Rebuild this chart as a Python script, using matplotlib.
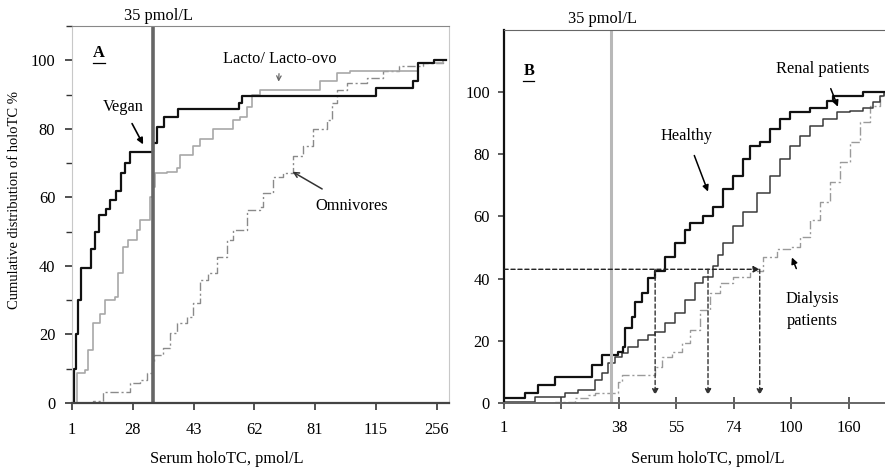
import matplotlib
matplotlib.use("Agg")
import matplotlib.pyplot as plt
from matplotlib.lines import Line2D

plt.rcParams['font.family'] = ['Liberation Serif', 'DejaVu Serif']
FS = 11.8

# Panel A: x is the ordinal tick position (0..6), y is cumulative %
a_ticklabels = ['1', '28', '43', '62', '81', '115', '256']
vegan_x = [0.0, 0.03, 0.06, 0.10, 0.14, 0.32, 0.38, 0.44, 0.56, 0.63, 0.72, 0.80, 0.88, 0.96,
           1.33, 1.40, 1.52, 1.75, 2.75, 2.80, 5.00, 5.62, 5.69, 5.95, 6.15]
vegan_y = [0, 10, 20, 30, 39.5, 45, 50, 55, 56.5, 59.4, 62, 67, 70, 73.4,
           76, 80.7, 83.6, 85.7, 87.5, 89.5, 92, 94, 99.4, 100, 100]
lacto_x = [0.02, 0.08, 0.21, 0.26, 0.35, 0.46, 0.54, 0.71, 0.76, 0.84, 0.92, 1.07, 1.12, 1.28,
           1.33, 1.37, 1.56, 1.73, 1.78, 1.99, 2.11, 2.32, 2.65, 2.76, 2.88, 2.96, 3.09,
           4.08, 4.36, 4.57, 5.69, 6.10]
lacto_y = [0, 8.8, 9.5, 15.5, 23.4, 26, 30, 31, 38, 45.6, 47.7, 50.6, 53.5, 60.2,
           63, 67, 67.5, 68.5, 72.5, 75, 77, 80, 82.7, 83.6, 86.5, 90, 91.5,
           94, 96.4, 96.8, 99.4, 100]
omni_x = [0.02, 0.35, 0.51, 0.95, 1.12, 1.23, 1.32, 1.35, 1.50, 1.61, 1.73, 1.89, 1.99, 2.11,
          2.24, 2.38, 2.55, 2.65, 2.88, 3.09, 3.14, 3.31, 3.47, 3.63, 3.80, 3.96, 4.19,
          4.28, 4.36, 4.52, 4.85, 5.12, 5.39, 5.77, 6.10]
omni_y = [0, 0.5, 3.2, 5.8, 6.7, 8.8, 11.7, 14, 16, 20.5, 23.4, 25.1, 29.2, 36,
          37.8, 42.7, 47.7, 50.6, 56.4, 57.3, 61.4, 66, 67.2, 72, 75, 80, 82.7,
          87.7, 91.5, 93.5, 95, 96.8, 98.3, 99.4, 100]
a_cutoff = 1.33

# Panel B
b_ticklabels = ['1', '', '38', '55', '74', '100', '160']
healthy_x = [0.02, 0.37, 0.59, 0.89, 1.53, 1.70, 1.98, 2.07, 2.10, 2.23, 2.28, 2.40, 2.50, 2.63,
             2.80, 2.97, 3.15, 3.23, 3.46, 3.63, 3.81, 3.98, 4.16, 4.28, 4.45, 4.63, 4.80,
             4.97, 5.32, 5.62, 5.72, 6.24, 6.63]
healthy_y = [1.6, 3.2, 5.8, 8.4, 12.3, 15.5, 16.5, 18, 24, 27.7, 32.6, 35.5, 40.3, 42.3,
             46.8, 51.6, 55.8, 58, 60, 63.2, 68.7, 73, 78.4, 82.6, 84, 88, 91.3,
             93.5, 95, 97, 98.7, 100, 100]
renal_x = [0.02, 0.54, 1.06, 1.29, 1.58, 1.70, 1.81, 1.93, 2.05, 2.16, 2.33, 2.50, 2.63, 2.80,
           2.97, 3.15, 3.32, 3.46, 3.63, 3.72, 3.81, 3.98, 4.16, 4.40, 4.63, 4.80, 4.97,
           5.15, 5.32, 5.55, 5.79, 6.02, 6.24, 6.42, 6.54, 6.61]
renal_y = [0.3, 2, 3.2, 4.2, 7.4, 9.7, 12.9, 14.8, 16.1, 18, 20.3, 21.9, 22.9, 25.8,
           29, 33.2, 38.7, 40.6, 43.9, 47.5, 51.6, 56.8, 61.3, 67.7, 72.9, 78.4, 82.6,
           85.8, 89, 91.3, 93.5, 94, 95, 96.8, 98.7, 100]
dialysis_x = [0.02, 0.89, 1.23, 1.46, 1.58, 1.98, 2.05, 2.63, 2.75, 2.92, 3.10, 3.23, 3.41, 3.58,
              3.76, 3.98, 4.28, 4.50, 4.75, 4.97, 5.15, 5.32, 5.50, 5.67, 5.84, 6.02, 6.19,
              6.37, 6.54, 6.61]
dialysis_y = [0, 0.2, 1.6, 2.6, 3.2, 6.8, 9, 11.6, 14.8, 16.5, 19.4, 23.5, 30, 35.5,
              38.7, 40.6, 42.3, 47.1, 49.4, 50.3, 53.5, 59, 64.5, 71, 77.4, 83.9, 90.3,
              95.5, 98.7, 100]
b_cutoff = 1.86
median_level = 43
median_x = [2.63, 3.55, 4.45]

fig = plt.figure(figsize=(8.85, 4.68), dpi=100)
axA = fig.add_axes([0.0814, 0.139, 0.4256, 0.805])
axB = fig.add_axes([0.5695, 0.139, 0.4305, 0.797])

# ---- panel A
axA.plot(omni_x, omni_y, drawstyle='steps-post', color='#8a8a8a', lw=1.0,
         ls=(0, (6, 2, 1.5, 2)))
axA.plot(lacto_x, lacto_y, drawstyle='steps-post', color='#a8a8a8', lw=1.2)
axA.plot(vegan_x, vegan_y, drawstyle='steps-post', color='#111111', lw=1.6)
axA.axvline(a_cutoff, color='#666666', lw=2.6)
axA.set_xlim(0, 6.2)
axA.set_ylim(0, 110)
axA.set_xticks(range(len(a_ticklabels)))
axA.set_xticklabels(a_ticklabels)
axA.set_yticks(range(0, 101, 20))
axA.set_yticks(range(10, 111, 20), minor=True)
axA.tick_params(axis='both', labelsize=FS, color='#333333', length=5, width=1.2)
axA.tick_params(axis='x', pad=9)
axA.tick_params(axis='y', pad=7)
axA.tick_params(axis='y', which='minor', length=4, width=1.0, color='#333333')
axA.set_xlabel('Serum holoTC, pmol/L', fontsize=FS)
axA.xaxis.set_label_coords(0.41, -0.128)
axA.set_ylabel('Cumulative distribution of holoTC %', fontsize=10.5, va='center')
axA.yaxis.set_label_coords(-0.152, 0.54)
axA.spines['left'].set_color('#c8c8c8')
axA.spines['right'].set_color('#c8c8c8')
axA.spines['top'].set_color('#888888')
axA.spines['bottom'].set_color('#444444')
axA.spines['bottom'].set_linewidth(1.6)
axA.text(a_cutoff + 0.1, 1.005, '35 pmol/L', transform=axA.get_xaxis_transform(),
         ha='center', va='bottom', fontsize=FS)
axA.text(0.07, 0.93, 'A', transform=axA.transAxes, fontsize=FS, fontweight='bold',
         ha='center', va='center')
axA.add_line(Line2D([0.055, 0.087], [0.903, 0.903], transform=axA.transAxes,
                    color='black', lw=0.9))

axA.annotate('Vegan', xy=(1.17, 75.5), xytext=(0.84, 86.5), fontsize=FS,
             ha='center', va='center',
             arrowprops=dict(arrowstyle='-|>', color='black', lw=1.2,
                             mutation_scale=9, shrinkA=5, shrinkB=0))
axA.annotate('Lacto/ Lacto-ovo', xy=(3.40, 93.8), xytext=(3.42, 100.5), fontsize=FS,
             ha='center', va='center',
             arrowprops=dict(arrowstyle='->', color='#666666', lw=0.9,
                             mutation_scale=8, shrinkA=3, shrinkB=0))
axA.annotate('Omnivores', xy=(3.63, 67.5), xytext=(4.6, 57.5), fontsize=FS,
             ha='center', va='center',
             arrowprops=dict(arrowstyle='->', color='#333333', lw=1.1,
                             mutation_scale=9, shrinkA=9, shrinkB=0))

# ---- panel B
axB.plot(dialysis_x, dialysis_y, drawstyle='steps-post', color='#9a9a9a', lw=1.0,
         ls=(0, (6, 2, 1.5, 2)))
axB.plot(renal_x, renal_y, drawstyle='steps-post', color='#3a3a3a', lw=1.1)
axB.plot(healthy_x, healthy_y, drawstyle='steps-post', color='#111111', lw=1.6)
axB.axvline(b_cutoff, color='#b8b8b8', lw=2.2)

axB.annotate('', xy=(median_x[-1], median_level), xytext=(0, median_level),
             arrowprops=dict(arrowstyle='-|>', color='#222222', lw=1.0, ls=(0, (3, 2)),
                             mutation_scale=9, shrinkA=0, shrinkB=0))
for mx in median_x:
    axB.annotate('', xy=(mx, 2.5), xytext=(mx, median_level),
                 arrowprops=dict(arrowstyle='-|>', color='#333333', lw=1.0, ls=(0, (3, 2)),
                                 mutation_scale=9, shrinkA=0, shrinkB=0))

axB.set_xlim(0, 6.63)
axB.set_ylim(0, 120)
axB.set_xticks(range(len(b_ticklabels)))
axB.set_xticklabels(b_ticklabels)
axB.set_yticks(range(0, 101, 20))
axB.tick_params(axis='both', labelsize=FS, color='#333333', width=1.1)
axB.tick_params(axis='x', direction='inout', length=8, pad=8)
axB.tick_params(axis='y', length=4, pad=6)
axB.set_xlabel('Serum holoTC, pmol/L', fontsize=FS)
axB.xaxis.set_label_coords(0.535, -0.13)
axB.spines['right'].set_visible(False)
axB.spines['left'].set_color('#111111')
axB.spines['left'].set_linewidth(1.6)
axB.spines['top'].set_color('#666666')
axB.spines['bottom'].set_color('#666666')
axB.spines['bottom'].set_linewidth(1.4)
axB.text(b_cutoff - 0.14, 1.008, '35 pmol/L', transform=axB.get_xaxis_transform(),
         ha='center', va='bottom', fontsize=FS)
axB.text(0.065, 0.89, 'B', transform=axB.transAxes, fontsize=FS, fontweight='bold',
         ha='center', va='center')
axB.add_line(Line2D([0.051, 0.080], [0.862, 0.862], transform=axB.transAxes,
                    color='black', lw=0.9))

axB.annotate('Healthy', xy=(3.55, 68), xytext=(3.18, 86), fontsize=FS,
             ha='center', va='center',
             arrowprops=dict(arrowstyle='-|>', color='black', lw=1.1,
                             mutation_scale=9, shrinkA=7, shrinkB=0))
axB.annotate('Renal patients', xy=(5.81, 95.3), xytext=(5.55, 107.5), fontsize=FS,
             ha='center', va='center',
             arrowprops=dict(arrowstyle='-|>', color='black', lw=1.1,
                             mutation_scale=9, shrinkA=7, shrinkB=0))
axB.annotate('Dialysis\npatients', xy=(5.01, 46.8), xytext=(5.37, 30), fontsize=FS,
             ha='center', va='center', linespacing=1.5,
             arrowprops=dict(arrowstyle='-|>', color='black', lw=1.1,
                             mutation_scale=9, shrinkA=15, shrinkB=0))

fig.savefig('out.png', dpi=100)
